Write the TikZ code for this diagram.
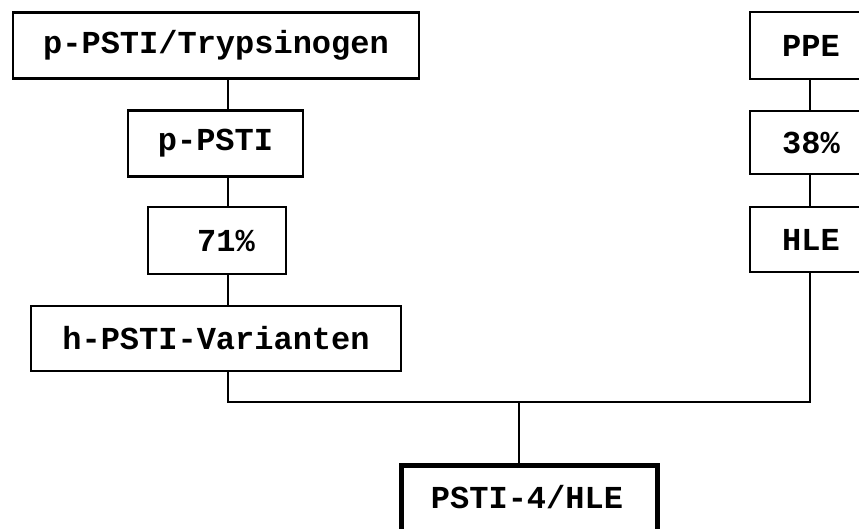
\documentclass[tikz,border=0pt]{standalone}
\usepackage{fontspec}
\setmonofont{Liberation Mono}
\begin{document}
\begin{tikzpicture}[x=1pt,y=-1pt,
  box/.style={draw,line width=2.2pt,rectangle,inner sep=0pt,font=\fontsize{32}{36}\selectfont\ttfamily\bfseries},
  conn/.style={line width=2.2pt}]
\useasboundingbox (0,0) rectangle (859,529);
\begin{scope}
\clip (0,0) rectangle (859,529);
% left column
\node[box,minimum width=406pt,minimum height=66pt] (b1) at (216,45.5) {p-PSTI/Trypsinogen};
\node[box,minimum width=175pt,minimum height=66pt] (b2) at (215.5,143.5) {p-PSTI};
\node[box,minimum width=138pt,minimum height=67pt,text width=138pt,align=center] (b3) at (217,240.5) {\hspace*{18pt}71\%};
\node[box,minimum width=370pt,minimum height=65pt] (b4) at (216,338.5) {h-PSTI-Varianten};
% right column
\node[box,minimum width=122pt,minimum height=67pt] (r1) at (811,45.5) {PPE};
\node[box,minimum width=122pt,minimum height=63pt] (r2) at (811,142.5) {38\%};
\node[box,minimum width=122pt,minimum height=65pt] (r3) at (811,239.5) {HLE};
% bottom
\node[box,line width=5pt,minimum width=256pt,minimum height=80pt] (bt) at (529,505) {};
\node[font=\fontsize{32}{36}\selectfont\ttfamily\bfseries] (btt) at (527,497) {PSTI-4/HLE};
% helper coordinates
\coordinate (xl) at (228,0);
\coordinate (xr) at (810,0);
\coordinate (j) at (519,402);
% connectors
\draw[conn] (b1.south -| xl) -- (b2.north -| xl);
\draw[conn] (b2.south -| xl) -- (b3.north -| xl);
\draw[conn] (b3.south -| xl) -- (b4.north -| xl);
\draw[conn] (r1.south -| xr) -- (r2.north -| xr);
\draw[conn] (r2.south -| xr) -- (r3.north -| xr);
\draw[conn] (b4.south -| xl) |- (j) -| (r3.south -| xr);
\draw[conn] (j) -- (bt.north -| j);
\end{scope}
\end{tikzpicture}
\end{document}
